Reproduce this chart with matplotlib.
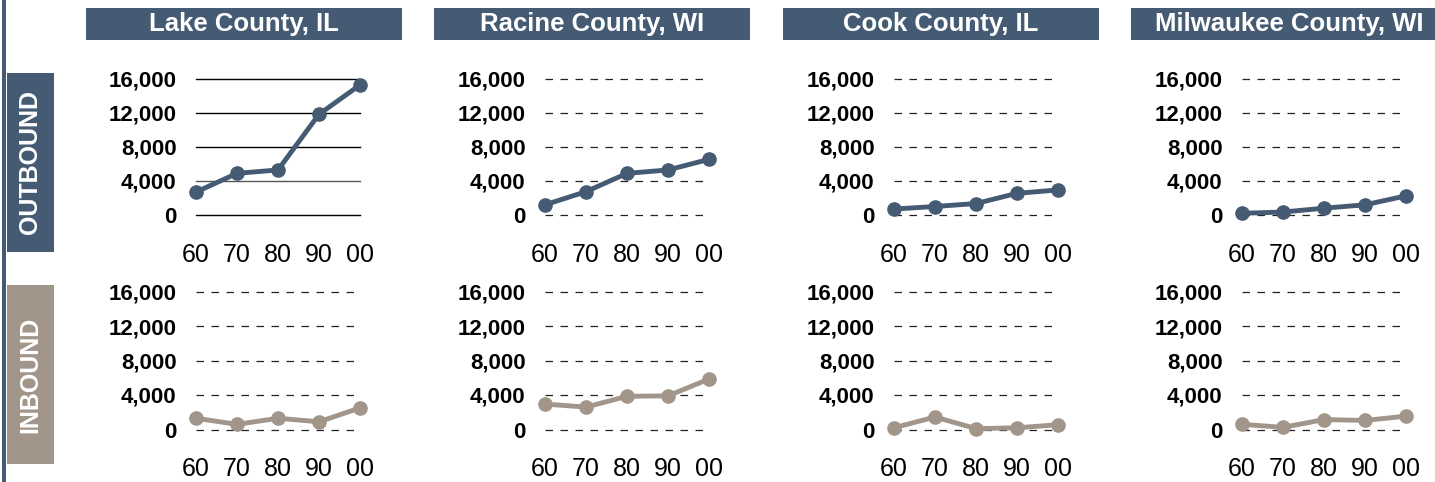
import numpy as np
import matplotlib as mpl
mpl.use("Agg")
import matplotlib.pyplot as plt
from matplotlib.patches import Rectangle
from matplotlib.ticker import FuncFormatter

mpl.rcParams['font.family'] = ['Liberation Sans', 'DejaVu Sans']

# colours
slate = '#455B73'
taupe = '#A29589'

# data
years = ['60', '70', '80', '90', '00']
counties = ['Lake County, IL', 'Racine County, WI', 'Cook County, IL', 'Milwaukee County, WI']
yticks = [0, 4000, 8000, 12000, 16000]

out_lake = [2700, 4900, 5300, 11850, 15300]
out_racine = [1200, 2750, 4900, 5300, 6550]
out_cook = [700, 1000, 1350, 2550, 2950]
out_milwaukee = [200, 350, 800, 1200, 2250]

in_lake = [1300, 600, 1300, 900, 2500]
in_racine = [2950, 2600, 3850, 3900, 5850]
in_cook = [200, 1450, 100, 200, 550]
in_milwaukee = [600, 250, 1150, 1050, 1550]

outbound = [out_lake, out_racine, out_cook, out_milwaukee]
inbound = [in_lake, in_racine, in_cook, in_milwaukee]

W, H = 1435, 482
fig = plt.figure(figsize=(W/100, H/100), dpi=100)

def rect(x0, y0, x1, y1):
    # pixel box (top-left origin) -> figure fraction
    return [x0/W, 1 - y1/H, (x1 - x0)/W, (y1 - y0)/H]

#left rule
fig.add_artist(Rectangle((2/W, 0), 3.5/W, 1, transform=fig.transFigure,
    color=slate, lw=0))

#column headers
bar_left = [86, 434, 783, 1131]
for x0, name in zip(bar_left, counties):
    r = rect(x0, 8, x0 + 316, 40)
    fig.add_artist(Rectangle((r[0], r[1]), r[2], r[3], transform=fig.transFigure,
        color=slate, lw=0))
    fig.text(r[0] + r[2]/2, r[1] + r[3]/2, name, color='white', fontsize=18.5,
        fontweight='bold', ha='center', va='center')

#row labels
for (y0, y1), label, col in [((73, 252), 'OUTBOUND', slate), ((285, 464), 'INBOUND', taupe)]:
    r = rect(7, y0, 54, y1)
    fig.add_artist(Rectangle((r[0], r[1]), r[2], r[3], transform=fig.transFigure,
        color=col, lw=0))
    fig.text(r[0] + r[2]/2, r[1] + r[3]/2, label, color='white', fontsize=18,
        fontweight='bold', ha='center', va='center', rotation=90)

fmt = FuncFormatter(lambda v, p: '{:,.0f}'.format(v))
ax_left = [196, 545, 894, 1242]
x = np.arange(len(years))

for row, (series_set, col, (top, bot)) in enumerate([
        (outbound, slate, (79, 215)), (inbound, taupe, (291.5, 429.5))]):
    for i, vals in enumerate(series_set):
        ax = fig.add_axes(rect(ax_left[i], top, ax_left[i] + 164, bot))
        ax.set_xlim(0, 4)
        ax.set_ylim(0, 16000)
        for s in ax.spines.values():
            s.set_visible(False)
        ax.set_yticks(yticks)
        ax.yaxis.set_major_formatter(fmt)
        ax.set_xticks(x)
        ax.set_xticklabels(years)
        ax.tick_params(axis='y', length=0, pad=14, labelsize=16)
        ax.tick_params(axis='x', length=0, pad=20, labelsize=18)
        for t in ax.get_yticklabels():
            t.set_fontweight('bold')
        solid = (row == 0 and i == 0)
        for yv in yticks:
            if solid:
                ax.axhline(yv, color='#555555' if yv == 4000 else 'black',
                    lw=1.0, zorder=1, clip_on=False)
            else:
                ax.axhline(yv, color='#222222', lw=0.9, ls=(0, (6, 6)),
                    zorder=1, clip_on=False)
        ax.plot(x, vals, color=col, lw=3.5, marker='o', markersize=9.5,
            clip_on=False, zorder=3)

fig.savefig('out.png', dpi=100)
